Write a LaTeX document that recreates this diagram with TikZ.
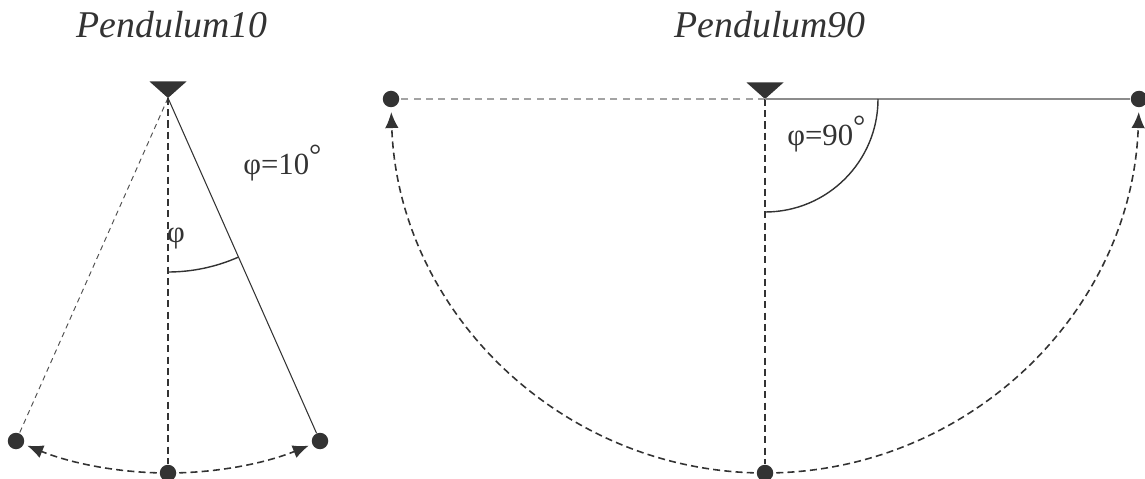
\documentclass[tikz,border=0pt]{standalone}
\usepackage{fontspec}
\setmainfont{Liberation Serif}
\usetikzlibrary{arrows.meta}
\definecolor{ink}{HTML}{333333}
\definecolor{lgray}{HTML}{8C8C8C}

\begin{document}
\begin{tikzpicture}[x=0.02cm, y=-0.02cm,
    bob/.style={circle, fill=ink, inner sep=0pt, minimum size=0.33cm},
    rod/.style={draw=ink, line width=0.6pt},
    rodgray/.style={draw=lgray, line width=0.9pt},
    plumb/.style={draw=ink, line width=0.9pt, dash pattern=on 4pt off 2.4pt},
    ghost/.style={draw=ink!85, line width=0.55pt, dash pattern=on 3pt off 2.4pt},
    ghostgray/.style={draw=lgray!80, line width=0.9pt, dash pattern=on 4pt off 3pt},
    swing/.style={draw=ink, line width=0.9pt, dash pattern=on 4pt off 2.4pt, -{Latex[length=3.2mm,width=2.7mm]}},
    anglearc/.style={draw=ink, line width=0.8pt},
    title/.style={font=\fontsize{21.5}{26}\selectfont\itshape, text=ink, anchor=base},
    lbl/.style={font=\fontsize{17.5}{21}\selectfont, text=ink, inner sep=0pt}
]
\useasboundingbox (0,0) rectangle (1145,479);
% titles
\node[title] (t10) at (172,38) {Pendulum10};
\node[title] (t90) at (770,38) {Pendulum90};
% pivots
\coordinate (p10) at (168,98);
\coordinate (p90) at (765,99);
\foreach \p in {p10,p90} {
    \fill[ink] (\p) -- ++(-18.5,-16.5) -- ++(37,0) -- cycle;
}
% bobs
\foreach \n/\pos in {l10/{(16,441)}, b10/{(168,473)}, r10/{(320,441)}, l90/{(391,99)}, b90/{(765,473)}, r90/{(1139,99)}} {
    \node[bob] (\n) at \pos {};
}
% Pendulum10
\draw[ghost] (p10) -- (l10);
\draw[plumb] (p10) -- (b10);
\draw[rod] (p10) -- (r10);
\draw[swing] (b10) arc[start angle=90, end angle=112, radius=376];
\draw[swing] (b10) arc[start angle=90, end angle=68, radius=376];
\draw[anglearc] (p10) ++(90:174) arc[start angle=90, end angle=66.2, radius=174];
\node[lbl, anchor=base] (phi10) at (176,243) {φ};
\node[lbl, anchor=base west] (ang10) at (243,175) {φ=10\raisebox{0.32em}{°}};
% Pendulum90
\draw[ghostgray] (p90) -- (l90);
\draw[plumb] (p90) -- (b90);
\draw[rodgray] (p90) -- (r90);
\draw[swing] (b90) arc[start angle=90, end angle=178, radius=374];
\draw[swing] (b90) arc[start angle=90, end angle=2, radius=374];
\draw[anglearc] (p90) ++(90:113) arc[start angle=90, end angle=0, radius=113];
\node[lbl, anchor=base west] (ang90) at (787,146) {φ=90\raisebox{0.32em}{°}};
\end{tikzpicture}
\end{document}
